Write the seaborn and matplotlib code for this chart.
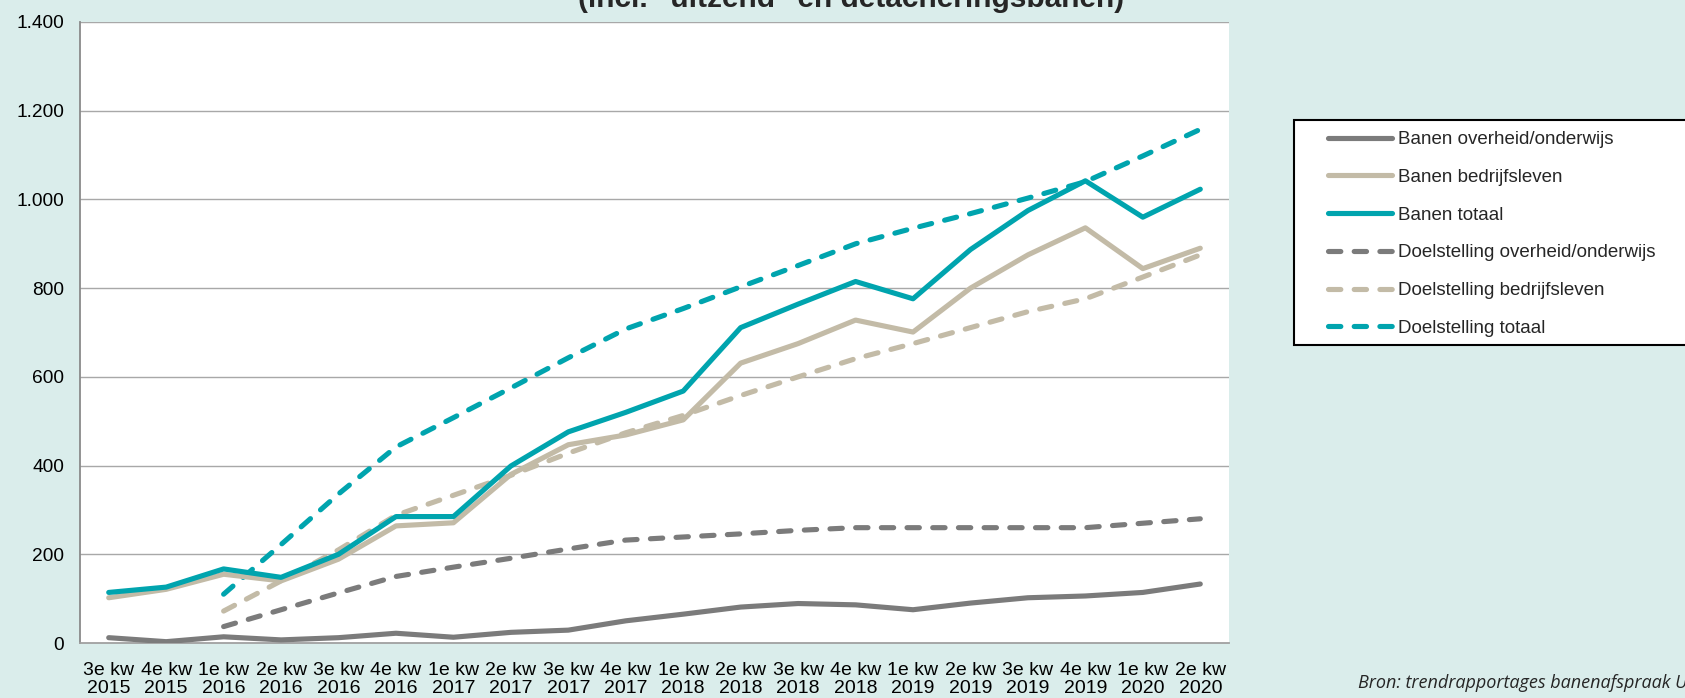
import numpy as np
import pandas as pd
import matplotlib
matplotlib.use("Agg")
import matplotlib.pyplot as plt
from matplotlib import font_manager
from matplotlib.patches import Rectangle
import seaborn as sns

quarters = ["3e kw\n2015", "4e kw\n2015", "1e kw\n2016", "2e kw\n2016", "3e kw\n2016", "4e kw\n2016",
            "1e kw\n2017", "2e kw\n2017", "3e kw\n2017", "4e kw\n2017", "1e kw\n2018", "2e kw\n2018",
            "3e kw\n2018", "4e kw\n2018", "1e kw\n2019", "2e kw\n2019", "3e kw\n2019", "4e kw\n2019",
            "1e kw\n2020", "2e kw\n2020"]

banen_overheid = [12, 3, 14, 7, 12, 22, 13, 24, 29, 50, 65, 81, 89, 86, 75, 90, 102, 106, 114, 133]
banen_bedrijf = [102, 121, 155, 140, 189, 264, 271, 380, 447, 469, 503, 631, 675, 728, 701, 800, 875, 936, 844, 890]
banen_totaal = [114, 126, 167, 148, 200, 285, 285, 399, 476, 520, 568, 711, 764, 815, 776, 887, 975, 1042, 960, 1023]
doel_overheid = [np.nan, np.nan, 37, 75, 113, 150, 171, 191, 212, 232, 239, 246, 254, 260, 260, 260, 260, 260, 270, 280]
doel_bedrijf = [np.nan, np.nan, 72, 140, 210, 288, 333, 378, 428, 474, 513, 558, 600, 641, 675, 711, 747, 776, 825, 875]
doel_totaal = [np.nan, np.nan, 110, 222, 336, 442, 508, 575, 643, 708, 754, 803, 851, 900, 935, 968, 1003, 1040, 1098, 1158]

series_labels = ["Banen overheid/onderwijs", "Banen bedrijfsleven", "Banen totaal",
                 "Doelstelling overheid/onderwijs", "Doelstelling bedrijfsleven", "Doelstelling totaal"]
y_ticks = [0, 200, 400, 600, 800, 1000, 1200, 1400]

title_text = '(incl. "uitzend" en detacheringsbanen)'
source_text = "Bron: trendrapportages banenafspraak UWV"

GRAY = "#7B7B7B"
BEIGE = "#C3BBA7"
TEAL = "#00A4AE"
BG = "#DAEDEB"

sns.set_theme(style="white")
avail = {f.name for f in font_manager.fontManager.ttflist}
plt.rcParams["font.family"] = ["Liberation Sans", "DejaVu Sans"]
narrow = "Liberation Sans Narrow" if "Liberation Sans Narrow" in avail else "Liberation Sans"

fig = plt.figure(figsize=(16.85, 6.98), dpi=100, facecolor=BG)
ax = fig.add_axes([80 / 1685, 1 - 643 / 698, (1229 - 80) / 1685, (643 - 22) / 698])
ax.set_facecolor("white")

x = np.arange(len(quarters))
data = [banen_overheid, banen_bedrijf, banen_totaal, doel_overheid, doel_bedrijf, doel_totaal]
colors = [GRAY, BEIGE, TEAL, GRAY, BEIGE, TEAL]
dashed = [False, False, False, True, True, True]

# gridlines
for v in y_ticks[1:]:
    ax.axhline(v, color="#A8A8A8", lw=1.0, zorder=0)

order = [3, 4, 5, 0, 1, 2]
for i in order:
    df = pd.DataFrame({"x": x, "y": data[i]}).dropna()
    kw = dict(solid_capstyle="round")
    if dashed[i]:
        kw = dict(linestyle=(0, (2.4, 2.6)), dash_capstyle="round")
    sns.lineplot(data=df, x="x", y="y", ax=ax, color=colors[i], lw=3.7,
                 label=series_labels[i], legend=False, zorder=3, **kw)

ax.set_xlim(-0.5, len(quarters) - 0.5)
ax.set_ylim(0, 1400)
ax.set_xticks(x)
ax.set_xticklabels(quarters, fontsize=14, linespacing=1.12)
ax.set_yticks(y_ticks)
ax.set_yticklabels([f"{v:,}".replace(",", ".") for v in y_ticks], fontsize=13.8)
ax.tick_params(axis="y", length=0, pad=11.5, colors="black")
ax.tick_params(axis="x", length=0, pad=13.5, colors="black")
ax.set_xlabel("")
ax.set_ylabel("")
for s in ["top", "right"]:
    ax.spines[s].set_visible(False)
ax.spines["left"].set_color("#8A8A8A")
ax.spines["left"].set_linewidth(1.3)
ax.spines["bottom"].set_color("#A0A0A0")
ax.spines["bottom"].set_linewidth(1.3)

handles, labels = ax.get_legend_handles_labels()
hmap = dict(zip(labels, handles))
leg = fig.legend([hmap[l] for l in series_labels], series_labels,
                 loc="upper left", bbox_to_anchor=(1328 / 1685, 1 - 131 / 698),
                 frameon=False, fontsize=13.5, handlelength=3.4, handletextpad=0.35,
                 labelspacing=1.1, borderaxespad=0, borderpad=0)
fig.patches.append(Rectangle((1294 / 1685, 1 - 345 / 698), 0.4, (345 - 120) / 698,
                             transform=fig.transFigure, facecolor="white",
                             edgecolor="black", lw=1.5, zorder=0))

fig.text(851 / 1685, 1 - 7 / 698, title_text, ha="center", va="baseline",
         fontsize=21.5, fontweight="bold", family=[narrow, "DejaVu Sans"])
fig.text(1358 / 1685, 1 - 688 / 698, source_text, ha="left", va="baseline",
         fontsize=13, style="italic", family=["Open Sans", "DejaVu Sans"])

fig.savefig("out.png", dpi=100, facecolor=BG)
